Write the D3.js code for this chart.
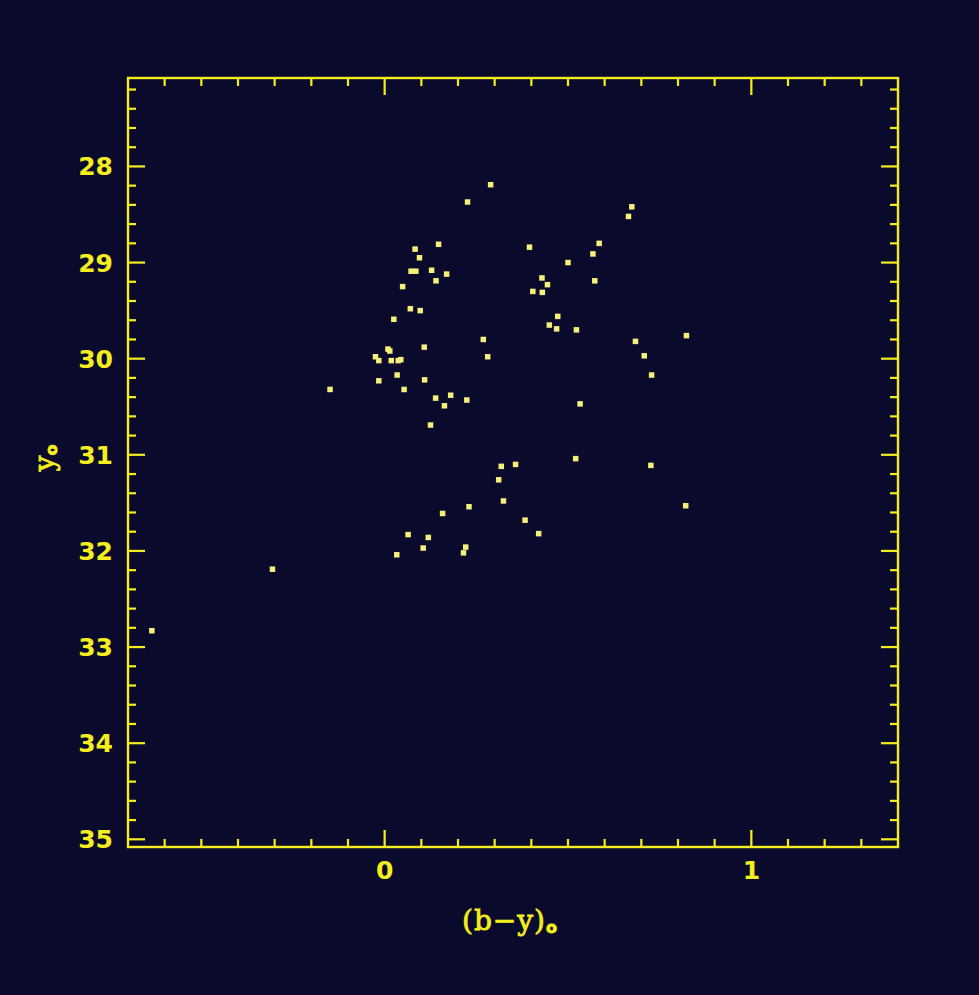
<!DOCTYPE html>
<html>
<head>
<meta charset="utf-8">
<script src="https://cdn.jsdelivr.net/npm/d3@7"></script>
<style>
  html, body { margin: 0; padding: 0; background: #0a0b2c; }
  svg { display: block; }
</style>
</head>
<body>
<svg id="chart" width="979" height="995"></svg>
<script>
// ---- data ----
const bmy = [0.289,0.226,0.147,0.083,0.095,0.072,0.085,0.128,0.169,0.140,0.049,0.070,0.097,0.025,
  0.108,0.269,0.281,-0.025,-0.016,0.009,0.014,0.018,0.037,0.044,0.034,-0.016,-0.149,0.053,0.109,
  0.139,0.180,0.163,0.224,0.125,
  0.318,0.357,0.311,0.324,0.158,0.230,0.383,0.420,0.064,0.119,0.105,0.033,0.221,0.215,
  0.674,0.665,0.395,0.585,0.568,0.500,0.573,0.429,0.444,0.404,0.430,0.472,0.449,0.469,0.523,0.684,0.823,
  0.708,0.728,0.533,0.521,0.726,0.821,
  -0.306,-0.635];
const y0 = [28.19,28.37,28.81,28.86,28.95,29.09,29.09,29.08,29.12,29.19,29.25,29.48,29.50,29.59,
  29.88,29.80,29.98,29.98,30.02,29.90,29.92,30.02,30.02,30.01,30.17,30.23,30.32,30.32,30.22,
  30.41,30.38,30.49,30.43,30.69,
  31.12,31.10,31.26,31.48,31.61,31.54,31.68,31.82,31.83,31.86,31.97,32.04,31.96,32.02,
  28.42,28.52,28.84,28.80,28.91,29.00,29.19,29.16,29.23,29.30,29.31,29.56,29.65,29.69,29.70,29.82,29.76,
  29.97,30.17,30.47,31.04,31.11,31.53,
  32.19,32.83];
const xTickLabels = [0, 1];
const yTickLabels = [28, 29, 30, 31, 32, 33, 34, 35];
const xDomain = [-0.7, 1.4];
const yDomain = [27.08, 35.08];

// ---- layout ----
const svg = d3.select("#chart");
const L = 128, R = 898, T = 78, B = 847;
const col = "#f5ee1e";
const ptCol = "#f6f07a";

const x = d3.scaleLinear().domain(xDomain).range([L, R]);
const y = d3.scaleLinear().domain(yDomain).range([T, B]);

const g = svg.append("g");

// frame
g.append("rect").attr("x", L).attr("y", T).attr("width", R - L).attr("height", B - T)
  .attr("fill", "none").attr("stroke", col).attr("stroke-width", 2.4);

// x ticks (inward, bottom and top)
const xMinor = d3.range(-0.6, 1.4, 0.1).map(v => +v.toFixed(2));
xMinor.forEach(v => {
  const isMaj = Math.abs(v - Math.round(v)) < 1e-6;
  const len = isMaj ? 17 : 8;
  g.append("line").attr("x1", x(v)).attr("x2", x(v)).attr("y1", B).attr("y2", B - len)
    .attr("stroke", col).attr("stroke-width", 2.2);
  g.append("line").attr("x1", x(v)).attr("x2", x(v)).attr("y1", T).attr("y2", T + len)
    .attr("stroke", col).attr("stroke-width", 2.2);
});
// y ticks (inward, left and right)
const yMinor = d3.range(27.2, 35.05, 0.2).map(v => +v.toFixed(2));
yMinor.forEach(v => {
  const isMaj = Math.abs(v - Math.round(v)) < 1e-6;
  const len = isMaj ? 17 : 8;
  g.append("line").attr("x1", L).attr("x2", L + len).attr("y1", y(v)).attr("y2", y(v))
    .attr("stroke", col).attr("stroke-width", 2.2);
  g.append("line").attr("x1", R).attr("x2", R - len).attr("y1", y(v)).attr("y2", y(v))
    .attr("stroke", col).attr("stroke-width", 2.2);
});

// tick labels
const fontT = "'DejaVu Sans', 'Liberation Sans', sans-serif";
g.selectAll("text.xl").data(xTickLabels).enter().append("text")
  .attr("x", d => x(d)).attr("y", 879)
  .attr("text-anchor", "middle").attr("fill", col)
  .attr("font-family", fontT).attr("font-weight", "bold").attr("font-size", 25)
  .text(d => d);
g.selectAll("text.yl").data(yTickLabels).enter().append("text")
  .attr("x", 113).attr("y", d => y(d) + 9)
  .attr("text-anchor", "end").attr("fill", col)
  .attr("font-family", fontT).attr("font-weight", "bold").attr("font-size", 25)
  .text(d => d);

// axis titles
const xt = g.append("text").attr("x", 510).attr("y", 930).attr("text-anchor", "middle")
  .attr("fill", col).attr("stroke", col).attr("stroke-width", 0.8)
  .attr("font-family", "'DejaVu Serif', serif").attr("font-size", 28)
  .attr("letter-spacing", 1);
xt.append("tspan").text("(b\u2212y)");
xt.append("tspan").attr("font-size", 16).attr("font-family", "'DejaVu Sans', sans-serif")
  .attr("font-weight", "bold").attr("dy", 3).text("o");

const yt = g.append("text").attr("transform", "translate(54,458) rotate(-90)")
  .attr("text-anchor", "middle").attr("fill", col).attr("stroke", col).attr("stroke-width", 0.8)
  .attr("font-family", "'DejaVu Serif', serif").attr("font-size", 28);
yt.append("tspan").text("y");
yt.append("tspan").attr("font-size", 16).attr("font-family", "'DejaVu Sans', sans-serif")
  .attr("font-weight", "bold").attr("dy", 3).text("o");

// points
const data = bmy.map((d, i) => ({ x: d, y: y0[i] }));
const s = 5.5;
g.selectAll("rect.pt").data(data).enter().append("rect")
  .attr("x", d => x(d.x) - s / 2).attr("y", d => y(d.y) - s / 2)
  .attr("width", s).attr("height", s).attr("fill", ptCol);
</script>
</body>
</html>
